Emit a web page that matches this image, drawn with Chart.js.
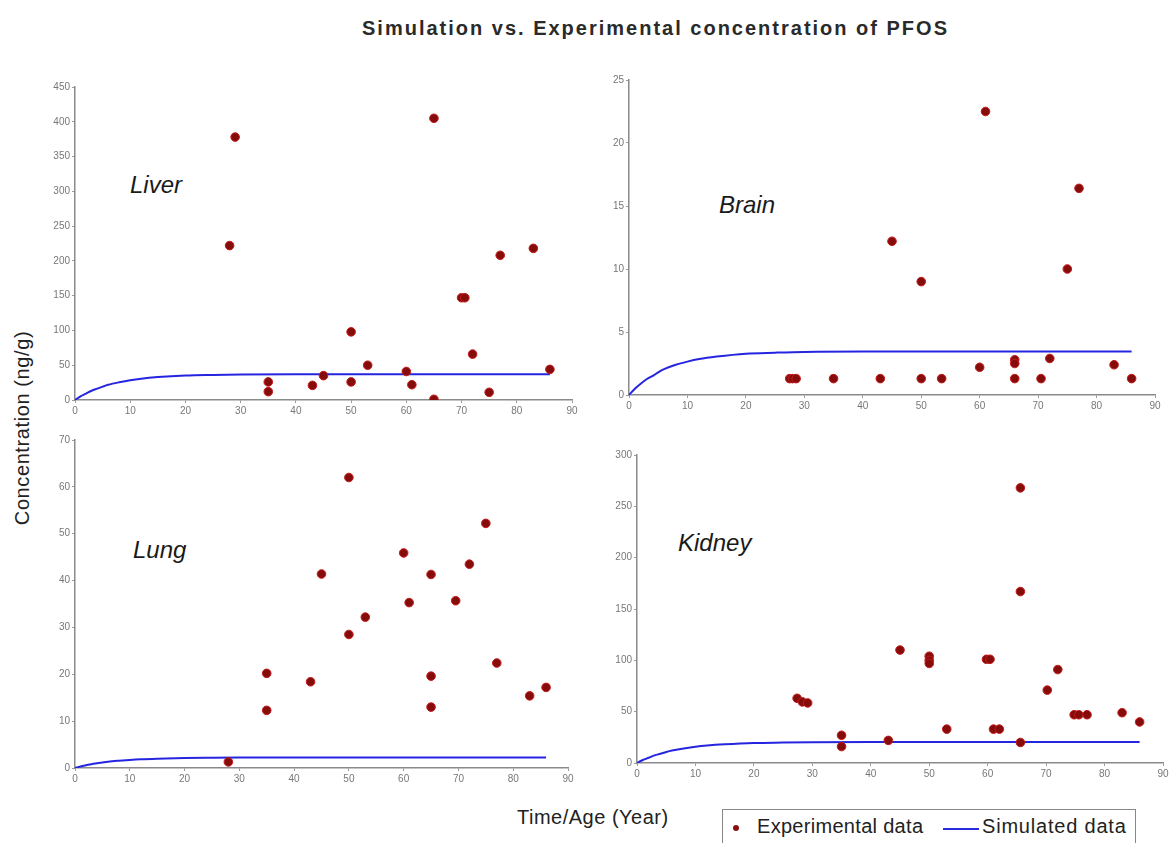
<!DOCTYPE html>
<html>
<head>
<meta charset="utf-8">
<script src="https://cdn.jsdelivr.net/npm/chart.js@4.4.1/dist/chart.umd.min.js"></script>
<style>
  html, body { margin:0; padding:0; background:#fff; }
  #wrap { position:relative; width:1171px; height:843px; overflow:hidden; background:#fff; font-family:"Liberation Sans", Arial, sans-serif; }
  canvas { position:absolute; }
  .txt { position:absolute; white-space:nowrap; color:#222; }
  .organ { font-style:italic; font-size:24px; color:#1a1a1a; }
</style>
</head>
<body>
<div id="wrap">
  <div class="txt" style="left:362px;top:17px;font-weight:bold;font-size:20px;letter-spacing:2px;color:#2a2a2a;">Simulation vs. Experimental concentration of PFOS</div>
  <div class="txt" style="left:22px;top:428px;font-size:20px;letter-spacing:0.6px;transform:translate(-50%,-50%) rotate(-90deg);">Concentration (ng/g)</div>
  <div class="txt" style="left:517px;top:806px;font-size:20px;letter-spacing:0.5px;">Time/Age (Year)</div>
  <div class="txt organ" style="left:130px;top:171px;">Liver</div>
  <div class="txt organ" style="left:719px;top:191px;">Brain</div>
  <div class="txt organ" style="left:133px;top:536px;">Lung</div>
  <div class="txt organ" style="left:678px;top:529px;">Kidney</div>
  <div style="position:absolute;left:722px;top:809px;width:412px;height:40px;border:1px solid #888;background:#fff;"></div>
  <div style="position:absolute;left:733px;top:825px;width:6px;height:6px;border-radius:50%;background:#8a1010;"></div>
  <div class="txt" style="left:757px;top:815px;font-size:20px;letter-spacing:0.3px;">Experimental data</div>
  <div style="position:absolute;left:943px;top:828px;width:36px;height:2px;background:#2a2ae0;"></div>
  <div class="txt" style="left:982px;top:815px;font-size:20px;letter-spacing:0.8px;">Simulated data</div>
  <canvas id="cLiver"></canvas>
  <canvas id="cBrain"></canvas>
  <canvas id="cLung"></canvas>
  <canvas id="cKidney"></canvas>
</div>
<script>
// ---- Data ----
const xTicks = [0,10,20,30,40,50,60,70,80,90];

const liverAge  = [28,29,35,35,43,45,50,50,53,60,61,65,65,70,70.6,72,75,77,83,86];
const liverConc = [222,378,26,12,21,35,98,26,50,41,22,405,1,147,147,66,11,208,218,44];

const brainAge  = [27.5,28,28.6,35,43,45,50,50,53.5,60,61,66,66,66,70.5,72,75,77,83,86];
const brainConc = [1.3,1.3,1.3,1.3,1.3,12.2,9.0,1.3,1.3,2.2,22.5,2.8,2.5,1.3,1.3,2.9,10.0,16.4,2.4,1.3];

const lungAge  = [28,35,35,43,45,50,50,53,60,61,65,65,65,69.5,72,75,77,83,86];
const lungConc = [1.3,20.2,12.3,18.4,41.4,62,28.5,32.2,45.9,35.3,41.3,19.6,13,35.7,43.5,52.2,22.4,15.4,17.2];

const kidneyAge  = [27.4,28.3,29.2,35,35,43,45,50,50,50,53,59.8,60.4,61,62,65.6,65.6,65.6,70.2,72,74.8,75.6,77,83,86];
const kidneyConc = [63,59.5,58.5,27,16,22,110,104,100,97,33,101,101,33,33,268,167,20,71,91,47,47,47,49,40];

const simAge    = [0,1,2,3,4,5,6,8,10,12,15,20,25,30,40,50,60,70,80,86];
const liverSim  = [0,5.2,9.3,13.3,16.3,19.2,21.8,25.5,28.5,30.7,32.9,35.1,36,36.6,37,37,37,37,37,37];
const brainSim  = [0,0.5,0.9,1.25,1.5,1.8,2.05,2.4,2.65,2.85,3.05,3.28,3.36,3.42,3.45,3.45,3.45,3.45,3.45,3.45];
const lungSim   = [0,0.32,0.58,0.82,1.0,1.17,1.33,1.55,1.73,1.87,2.0,2.14,2.19,2.22,2.25,2.25,2.25,2.25,2.25,2.25];
const kidneySim = [0,2.9,5.1,7.4,9.0,10.7,12.1,14.1,15.8,17.0,18.2,19.5,19.9,20.2,20.4,20.4,20.4,20.4,20.4,20.4];

// ---- Chart builder ----
const YW = 34, XH = 22, PT = 9, PR = 14;
function pts(xs, ys){ return xs.map((x,i)=>({x:x, y:ys[i]})); }

function makeChart(id, rect, ages, conc, simY, yMax, yStep){
  const cv = document.getElementById(id);
  const w = (rect.x1 - rect.x0) + YW + PR;
  const h = (rect.y1 - rect.y0) + PT + XH;
  cv.width = w; cv.height = h;
  cv.style.width = w + 'px'; cv.style.height = h + 'px';
  cv.style.left = (rect.x0 - YW) + 'px';
  cv.style.top = (rect.y0 - PT) + 'px';
  const tickFont = {family:'"Liberation Sans", Arial, sans-serif', size:10};
  return new Chart(cv, {
    type:'scatter',
    data:{
      datasets:[
        {
          type:'line',
          data: pts(simAge, simY),
          borderColor:'#2525e0',
          borderWidth:2,
          pointRadius:0,
          fill:false,
          cubicInterpolationMode:'monotone',
          order:2
        },
        {
          type:'scatter',
          data: pts(ages, conc),
          backgroundColor:'#860c0c',
          borderColor:'#c41a1a',
          borderWidth:1,
          pointRadius:4.3,
          order:1
        }
      ]
    },
    options:{
      responsive:false,
      animation:false,
      devicePixelRatio:1,
      layout:{padding:{top:PT, right:PR, left:0, bottom:0}},
      plugins:{legend:{display:false}, tooltip:{enabled:false}},
      scales:{
        x:{
          type:'linear', min:0, max:90,
          afterBuildTicks: s => { s.ticks = xTicks.map(v=>({value:v})); },
          ticks:{font:tickFont, color:'#777', padding:2, maxRotation:0, autoSkip:false},
          grid:{drawOnChartArea:false, drawTicks:true, tickLength:3, color:'#999'},
          border:{display:true, color:'#8a8a8a', width:1.5},
          afterFit: s => { s.height = XH; }
        },
        y:{
          type:'linear', min:0, max:yMax,
          ticks:{stepSize:yStep, font:tickFont, color:'#777', padding:2},
          grid:{drawOnChartArea:false, drawTicks:true, tickLength:3, color:'#999'},
          border:{display:true, color:'#8a8a8a', width:1.5},
          afterFit: s => { s.width = YW; }
        }
      }
    }
  });
}

makeChart('cLiver',  {x0:75,  x1:572,  y0:87,  y1:400}, liverAge,  liverConc,  liverSim,  450, 50);
makeChart('cBrain',  {x0:629, x1:1155, y0:80,  y1:395}, brainAge,  brainConc,  brainSim,  25,  5);
makeChart('cLung',   {x0:75,  x1:568,  y0:440, y1:768}, lungAge,   lungConc,   lungSim,   70,  10);
makeChart('cKidney', {x0:637, x1:1163, y0:455, y1:763}, kidneyAge, kidneyConc, kidneySim, 300, 50);
</script>
</body>
</html>
